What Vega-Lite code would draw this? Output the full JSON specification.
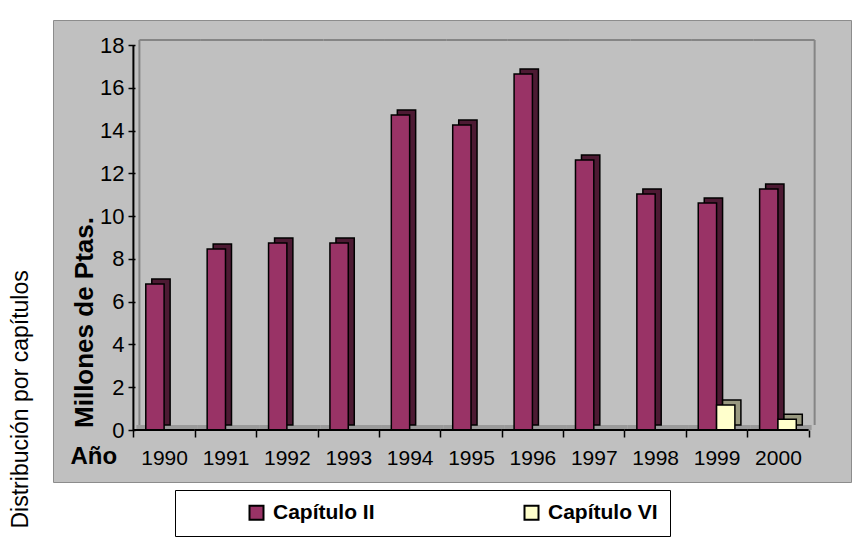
{
  "$schema": "https://vega.github.io/schema/vega-lite/v6.json",
  "width": 798,
  "height": 462,
  "autosize": {"type": "none"},
  "padding": {"left": 53, "top": 20, "right": 1, "bottom": 56},
  "background": "white",
  "title": {"text": "Distribución por capítulos", "orient": "left", "anchor": "start", "frame": "bounds", "fontSize": 23, "fontWeight": "normal", "color": "black", "font": "Liberation Sans", "offset": 20, "dx": 8},
  "data": {"values": [
    {"year": "1990", "serie": "Capítulo II", "value": 6.83},
    {"year": "1991", "serie": "Capítulo II", "value": 8.46},
    {"year": "1992", "serie": "Capítulo II", "value": 8.74},
    {"year": "1993", "serie": "Capítulo II", "value": 8.74},
    {"year": "1994", "serie": "Capítulo II", "value": 14.73},
    {"year": "1995", "serie": "Capítulo II", "value": 14.26},
    {"year": "1996", "serie": "Capítulo II", "value": 16.64},
    {"year": "1997", "serie": "Capítulo II", "value": 12.62},
    {"year": "1998", "serie": "Capítulo II", "value": 11.03},
    {"year": "1999", "serie": "Capítulo II", "value": 10.61},
    {"year": "2000", "serie": "Capítulo II", "value": 11.27},
    {"year": "1999", "serie": "Capítulo VI", "value": 1.17},
    {"year": "2000", "serie": "Capítulo VI", "value": 0.5}
  ]},
  "config": {
    "font": "Liberation Sans",
    "view": {"fill": "#c0c0c0", "stroke": "#8c8c8c", "strokeWidth": 1},
    "axisX": {"offset": -52, "tickBand": "extent", "domain": false, "grid": false, "tickColor": "black", "tickWidth": 1.5, "tickSize": 7, "labelFontSize": 21, "labelColor": "black", "labelPadding": 10, "labelAngle": 0, "titleFontSize": 24, "titleFontWeight": "bold", "titleColor": "black", "titleAlign": "left", "titleBaseline": "alphabetic", "titleX": 17, "titleY": 33},
    "axisY": {"offset": -82, "domain": false, "grid": false, "tickColor": "black", "tickWidth": 1.5, "tickSize": 7, "labelFontSize": 22, "labelColor": "black", "labelPadding": 4, "titleFontSize": 26, "titleFontWeight": "bold", "titleColor": "black", "titleX": -38, "titleY": 302, "titleAlign": "center"}
  },
  "resolve": {"scale": {"color": "independent", "xOffset": "independent"}, "legend": {"color": "independent"}},
  "layer": [
    {
      "transform": [{"filter": "datum.serie == 'Capítulo II'"}],
      "mark": {"type": "rect", "fill": "#9a9a9a", "xOffset": 3},
      "encoding": {
        "x": {"field": "year", "type": "ordinal", "title": "Año",
              "scale": {"domain": ["1990","1991","1992","1993","1994","1995","1996","1997","1998","1999","2000"], "paddingInner": 0, "paddingOuter": 1.009, "align": 0.655}},
        "y": {"datum": 0.234, "type": "quantitative", "title": "Millones de Ptas.", "scale": {"domain": [-2.431, 19.169], "nice": false, "zero": false}},
        "y2": {"datum": 0}
      }
    },
    {
      "transform": [{"filter": "datum.serie == 'Capítulo II'"}],
      "mark": {"type": "rect", "fill": "#858585", "xOffset": 6, "yOffset": -6, "y2Offset": -4},
      "encoding": {
        "x": {"field": "year", "type": "ordinal", "title": "Año"},
        "y": {"datum": 18, "type": "quantitative", "title": "Millones de Ptas."},
        "y2": {"datum": 18}
      }
    },
    {
      "data": {"values": [{}]},
      "mark": {"type": "rule", "color": "#858585", "strokeWidth": 2, "xOffset": 6, "yOffset": -5, "y2Offset": -5},
      "encoding": {
        "x": {"datum": "1990", "type": "ordinal", "bandPosition": 0, "title": "Año"},
        "y": {"datum": 0, "type": "quantitative", "title": "Millones de Ptas."},
        "y2": {"datum": 18}
      }
    },
    {
      "data": {"values": [{}]},
      "mark": {"type": "rule", "color": "#858585", "strokeWidth": 2, "xOffset": 6, "yOffset": -5, "y2Offset": -5},
      "encoding": {
        "x": {"datum": "2000", "type": "ordinal", "bandPosition": 1, "title": "Año"},
        "y": {"datum": 0, "type": "quantitative", "title": "Millones de Ptas."},
        "y2": {"datum": 18}
      }
    },
    {
      "mark": {"type": "bar", "stroke": "black", "strokeWidth": 1.5, "yOffset": -5, "y2Offset": -5},
      "encoding": {
        "x": {"field": "year", "type": "ordinal", "title": "Año"},
        "xOffset": {"field": "serie", "type": "nominal", "scale": {"domain": ["Capítulo II", "Capítulo VI"], "paddingInner": 0, "paddingOuter": 0.675, "align": 0.743}},
        "y": {"field": "value", "type": "quantitative", "stack": null, "title": "Millones de Ptas."},
        "y2": {"datum": 0},
        "color": {"field": "serie", "type": "nominal", "legend": null, "scale": {"domain": ["Capítulo II", "Capítulo VI"], "range": ["#4d1a33", "#999980"]}}
      }
    },
    {
      "mark": {"type": "bar", "stroke": "black", "strokeWidth": 1.5},
      "encoding": {
        "x": {"field": "year", "type": "ordinal", "title": "Año"},
        "xOffset": {"field": "serie", "type": "nominal", "scale": {"domain": ["Capítulo II", "Capítulo VI"], "paddingInner": 0, "paddingOuter": 0.675}},
        "y": {"field": "value", "type": "quantitative", "stack": null, "title": "Millones de Ptas.", "axis": {"values": [0, 2, 4, 6, 8, 10, 12, 14, 16, 18]}},
        "y2": {"datum": 0},
        "color": {"field": "serie", "type": "nominal", "scale": {"domain": ["Capítulo II", "Capítulo VI"], "range": ["#993366", "#ffffcc"]},
                  "legend": {"title": " ", "orient": "none", "legendX": 122, "legendY": 470, "direction": "horizontal", "fillColor": "white", "strokeColor": "black", "padding": 12, "symbolType": "square", "symbolSize": 196, "symbolStrokeColor": "black", "symbolStrokeWidth": 2, "labelFontSize": 21, "labelFontWeight": "bold", "labelColor": "black", "labelOffset": 6, "columnPadding": 145, "titleOrient": "left", "titlePadding": 59, "titleFontSize": 11}}
      }
    },
    {
      "transform": [{"filter": "datum.serie == 'Capítulo II'"}],
      "mark": {"type": "rect", "fill": "black", "yOffset": -1, "y2Offset": 1},
      "encoding": {
        "x": {"field": "year", "type": "ordinal", "title": "Año"},
        "y": {"datum": 0, "type": "quantitative", "title": "Millones de Ptas."},
        "y2": {"datum": 0}
      }
    },
    {
      "data": {"values": [{}]},
      "mark": {"type": "rule", "color": "black", "strokeWidth": 2},
      "encoding": {
        "x": {"datum": "1990", "type": "ordinal", "bandPosition": 0, "title": "Año"},
        "y": {"datum": 0, "type": "quantitative", "title": "Millones de Ptas."},
        "y2": {"datum": 18}
      }
    }
  ]
}
